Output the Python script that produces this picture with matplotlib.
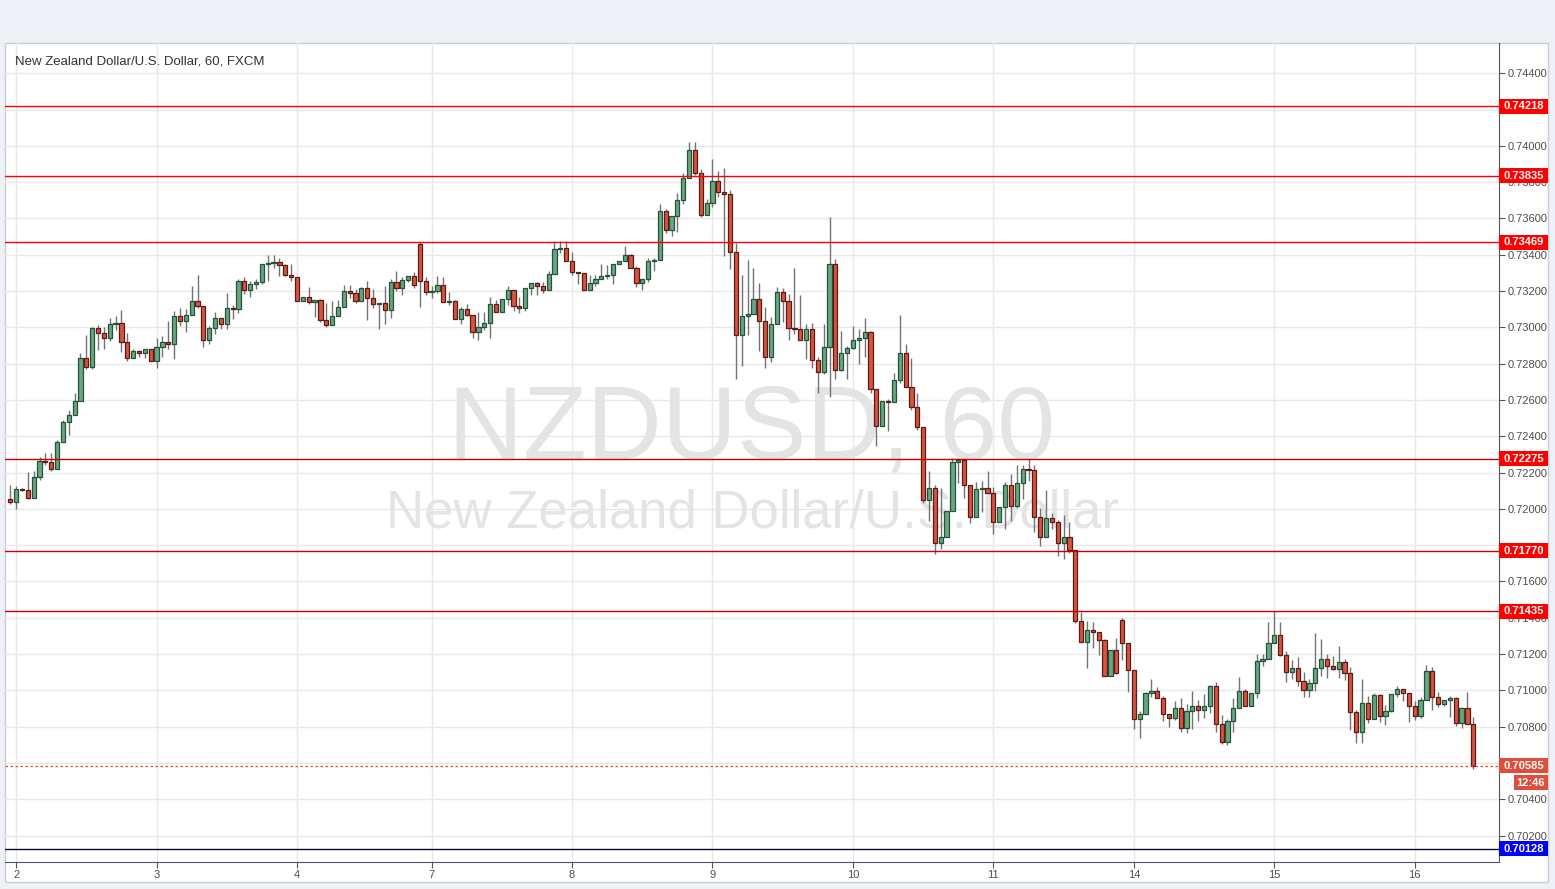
import matplotlib
matplotlib.use("Agg")
import matplotlib.pyplot as plt
import matplotlib.transforms as mtransforms
from matplotlib.patches import Rectangle
import numpy as np

# NZDUSD hourly candles (FXCM)
opens = [
    0.72056, 0.72037, 0.72111, 0.72105, 0.72061, 0.72178, 0.72263, 0.72256, 0.72220, 0.72367,
    0.72478, 0.72519, 0.72594, 0.72833, 0.72783, 0.72994, 0.72967, 0.72943, 0.73017, 0.73022,
    0.72920, 0.72833, 0.72870, 0.72861, 0.72883, 0.72817, 0.72894, 0.72922, 0.72906, 0.73061,
    0.73033, 0.73067, 0.73144, 0.73117, 0.72933, 0.72994, 0.73050, 0.73017, 0.73106, 0.73100,
    0.73256, 0.73206, 0.73239, 0.73250, 0.73350, 0.73356, 0.73361, 0.73344, 0.73289, 0.73278,
    0.73144, 0.73167, 0.73139, 0.73150, 0.73039, 0.73011, 0.73061, 0.73111, 0.73200, 0.73189,
    0.73144, 0.73217, 0.73161, 0.73128, 0.73133, 0.73094, 0.73250, 0.73217, 0.73261, 0.73283,
    0.73461, 0.73256, 0.73194, 0.73200, 0.73233, 0.73139, 0.73144, 0.73044, 0.73100, 0.73067,
    0.72972, 0.73000, 0.73022, 0.73128, 0.73083, 0.73156, 0.73206, 0.73117, 0.73106, 0.73217,
    0.73244, 0.73228, 0.73206, 0.73294, 0.73433, 0.73439, 0.73367, 0.73306, 0.73300, 0.73206,
    0.73244, 0.73267, 0.73283, 0.73289, 0.73350, 0.73367, 0.73400, 0.73328, 0.73244, 0.73267,
    0.73367, 0.73372, 0.73639, 0.73539, 0.73611, 0.73700, 0.73822, 0.73978, 0.73850, 0.73617,
    0.73683, 0.73806, 0.73744, 0.73733, 0.73417, 0.72956, 0.73061, 0.73072, 0.73156, 0.73033,
    0.72839, 0.73017, 0.73194, 0.73144, 0.72994, 0.72989, 0.72933, 0.72989, 0.72822, 0.72756,
    0.72894, 0.73350, 0.72767, 0.72861, 0.72889, 0.72933, 0.72944, 0.72972, 0.72661, 0.72456,
    0.72594, 0.72589, 0.72711, 0.72861, 0.72672, 0.72561, 0.72450, 0.72050, 0.72117, 0.71811,
    0.71844, 0.71989, 0.72256, 0.72267, 0.72133, 0.71956, 0.72111, 0.72117, 0.72089, 0.71928,
    0.72011, 0.72134, 0.72018, 0.72145, 0.72222, 0.72216, 0.71957, 0.71847, 0.71952, 0.71930,
    0.71814, 0.71847, 0.71775, 0.71384, 0.71268, 0.71334, 0.71323, 0.71279, 0.71081, 0.71224,
    0.71389, 0.71262, 0.71114, 0.70843, 0.70871, 0.70986, 0.70997, 0.70958, 0.70870, 0.70848,
    0.70903, 0.70792, 0.70886, 0.70914, 0.70892, 0.70914, 0.71024, 0.70814, 0.70715, 0.70831,
    0.70903, 0.70997, 0.70914, 0.70986, 0.71162, 0.71173, 0.71262, 0.71306, 0.71196, 0.71102,
    0.71124, 0.71052, 0.71002, 0.71041, 0.71124, 0.71173, 0.71135, 0.71118, 0.71157, 0.71096,
    0.70881, 0.70770, 0.70931, 0.70842, 0.70975, 0.70859, 0.70886, 0.70980, 0.71008, 0.70986,
    0.70914, 0.70859, 0.70945, 0.71106, 0.70962, 0.70923, 0.70945, 0.70956, 0.70818, 0.70901,
    0.70813,
]
highs = [
    0.72130, 0.72126, 0.72115, 0.72204, 0.72207, 0.72285, 0.72307, 0.72307, 0.72380, 0.72489,
    0.72546, 0.72639, 0.72857, 0.72957, 0.73000, 0.73013, 0.73000, 0.73050, 0.73063, 0.73096,
    0.72967, 0.72883, 0.72874, 0.72883, 0.72883, 0.72941, 0.72950, 0.73033, 0.73091, 0.73106,
    0.73100, 0.73230, 0.73291, 0.73117, 0.73007, 0.73085, 0.73050, 0.73191, 0.73124, 0.73267,
    0.73278, 0.73256, 0.73267, 0.73350, 0.73400, 0.73400, 0.73383, 0.73350, 0.73350, 0.73278,
    0.73167, 0.73222, 0.73150, 0.73156, 0.73133, 0.73144, 0.73150, 0.73233, 0.73233, 0.73211,
    0.73222, 0.73256, 0.73211, 0.73133, 0.73228, 0.73267, 0.73311, 0.73278, 0.73283, 0.73306,
    0.73472, 0.73278, 0.73228, 0.73283, 0.73278, 0.73194, 0.73150, 0.73111, 0.73128, 0.73067,
    0.73083, 0.73083, 0.73167, 0.73150, 0.73156, 0.73228, 0.73206, 0.73167, 0.73217, 0.73244,
    0.73250, 0.73250, 0.73311, 0.73478, 0.73478, 0.73478, 0.73417, 0.73306, 0.73300, 0.73289,
    0.73289, 0.73350, 0.73344, 0.73350, 0.73367, 0.73450, 0.73406, 0.73339, 0.73267, 0.73383,
    0.73383, 0.73678, 0.73650, 0.73611, 0.73739, 0.73850, 0.74022, 0.74022, 0.73872, 0.73706,
    0.73928, 0.73861, 0.73878, 0.73756, 0.73467, 0.73289, 0.73372, 0.73328, 0.73244, 0.73111,
    0.73056, 0.73222, 0.73217, 0.73183, 0.73328, 0.73178, 0.73017, 0.73022, 0.72839, 0.73017,
    0.73606, 0.73378, 0.72978, 0.72900, 0.73006, 0.72989, 0.73050, 0.72978, 0.72661, 0.72594,
    0.72606, 0.72750, 0.73067, 0.72911, 0.72833, 0.72639, 0.72450, 0.72206, 0.72133, 0.72117,
    0.71989, 0.72278, 0.72278, 0.72267, 0.72133, 0.72150, 0.72156, 0.72211, 0.72122, 0.72011,
    0.72150, 0.72194, 0.72239, 0.72239, 0.72277, 0.72239, 0.72007, 0.72105, 0.71979, 0.71941,
    0.71968, 0.71930, 0.71775, 0.71433, 0.71384, 0.71378, 0.71323, 0.71285, 0.71224, 0.71290,
    0.71400, 0.71262, 0.71114, 0.70888, 0.70991, 0.71063, 0.71019, 0.70969, 0.70870, 0.70941,
    0.70958, 0.70925, 0.70997, 0.70947, 0.70980, 0.71030, 0.71046, 0.70864, 0.70842, 0.70958,
    0.71074, 0.71008, 0.70986, 0.71201, 0.71201, 0.71378, 0.71439, 0.71378, 0.71218, 0.71168,
    0.71184, 0.71102, 0.71063, 0.71317, 0.71284, 0.71201, 0.71190, 0.71245, 0.71173, 0.71129,
    0.70892, 0.71063, 0.70969, 0.70986, 0.70980, 0.70919, 0.70980, 0.71024, 0.71008, 0.70986,
    0.70941, 0.70962, 0.71139, 0.71128, 0.70990, 0.70945, 0.70968, 0.70962, 0.70907, 0.70990,
    0.70851,
]
lows = [
    0.72024, 0.72000, 0.72100, 0.72052, 0.72061, 0.72159, 0.72239, 0.72207, 0.72220, 0.72367,
    0.72409, 0.72519, 0.72594, 0.72770, 0.72770, 0.72878, 0.72883, 0.72924, 0.72987, 0.72865,
    0.72815, 0.72833, 0.72837, 0.72833, 0.72817, 0.72776, 0.72837, 0.72883, 0.72828, 0.73007,
    0.72976, 0.73067, 0.73104, 0.72893, 0.72911, 0.72961, 0.72989, 0.72989, 0.73044, 0.73078,
    0.73183, 0.73167, 0.73211, 0.73239, 0.73256, 0.73328, 0.73283, 0.73283, 0.73256, 0.73144,
    0.73144, 0.73128, 0.73059, 0.73028, 0.73000, 0.73011, 0.73061, 0.73111, 0.73161, 0.73133,
    0.73144, 0.73039, 0.73106, 0.72989, 0.73017, 0.73050, 0.73200, 0.73178, 0.73250, 0.73217,
    0.73111, 0.73178, 0.73161, 0.73189, 0.73139, 0.73122, 0.73044, 0.73017, 0.73061, 0.72939,
    0.72928, 0.72983, 0.72939, 0.73083, 0.73083, 0.73122, 0.73089, 0.73078, 0.73089, 0.73178,
    0.73178, 0.73189, 0.73206, 0.73294, 0.73411, 0.73367, 0.73289, 0.73239, 0.73206, 0.73206,
    0.73228, 0.73267, 0.73267, 0.73239, 0.73350, 0.73367, 0.73328, 0.73222, 0.73206, 0.73250,
    0.73311, 0.73372, 0.73522, 0.73506, 0.73528, 0.73678, 0.73822, 0.73839, 0.73606, 0.73617,
    0.73661, 0.73717, 0.73394, 0.73322, 0.72715, 0.72789, 0.72956, 0.73072, 0.72872, 0.72778,
    0.72811, 0.73017, 0.73028, 0.72928, 0.72961, 0.72928, 0.72828, 0.72778, 0.72639, 0.72744,
    0.72617, 0.72715, 0.72761, 0.72715, 0.72883, 0.72800, 0.72839, 0.72639, 0.72344, 0.72456,
    0.72428, 0.72589, 0.72694, 0.72672, 0.72544, 0.72433, 0.72033, 0.71933, 0.71750, 0.71778,
    0.71844, 0.71989, 0.72144, 0.72061, 0.71922, 0.71956, 0.71983, 0.72089, 0.71861, 0.71928,
    0.71891, 0.71935, 0.72007, 0.72057, 0.72156, 0.71875, 0.71797, 0.71847, 0.71891, 0.71742,
    0.71726, 0.71759, 0.71373, 0.71268, 0.71125, 0.71235, 0.71196, 0.71081, 0.71081, 0.71092,
    0.71169, 0.70992, 0.70788, 0.70739, 0.70871, 0.70964, 0.70958, 0.70831, 0.70798, 0.70836,
    0.70770, 0.70765, 0.70787, 0.70831, 0.70848, 0.70875, 0.70770, 0.70704, 0.70698, 0.70770,
    0.70903, 0.70914, 0.70914, 0.70958, 0.71135, 0.71173, 0.71262, 0.71190, 0.71046, 0.71063,
    0.71024, 0.70964, 0.70964, 0.70997, 0.71079, 0.71068, 0.71112, 0.71068, 0.71057, 0.70781,
    0.70709, 0.70709, 0.70820, 0.70842, 0.70825, 0.70809, 0.70880, 0.70964, 0.70941, 0.70825,
    0.70836, 0.70846, 0.70945, 0.70890, 0.70907, 0.70912, 0.70851, 0.70801, 0.70790, 0.70813,
    0.70569,
]
closes = [
    0.72037, 0.72111, 0.72105, 0.72061, 0.72178, 0.72263, 0.72256, 0.72220, 0.72367, 0.72478,
    0.72519, 0.72594, 0.72833, 0.72783, 0.72994, 0.72967, 0.72943, 0.73017, 0.73022, 0.72920,
    0.72833, 0.72870, 0.72861, 0.72883, 0.72817, 0.72894, 0.72922, 0.72906, 0.73061, 0.73033,
    0.73067, 0.73144, 0.73117, 0.72933, 0.72994, 0.73050, 0.73017, 0.73106, 0.73100, 0.73256,
    0.73206, 0.73239, 0.73250, 0.73350, 0.73356, 0.73361, 0.73344, 0.73289, 0.73278, 0.73144,
    0.73167, 0.73139, 0.73150, 0.73039, 0.73011, 0.73061, 0.73111, 0.73200, 0.73189, 0.73144,
    0.73217, 0.73161, 0.73128, 0.73133, 0.73094, 0.73250, 0.73217, 0.73261, 0.73283, 0.73233,
    0.73256, 0.73194, 0.73200, 0.73233, 0.73139, 0.73144, 0.73044, 0.73100, 0.73067, 0.72972,
    0.73000, 0.73022, 0.73128, 0.73083, 0.73156, 0.73206, 0.73117, 0.73106, 0.73217, 0.73244,
    0.73228, 0.73206, 0.73294, 0.73433, 0.73439, 0.73367, 0.73306, 0.73300, 0.73206, 0.73244,
    0.73267, 0.73283, 0.73289, 0.73350, 0.73367, 0.73400, 0.73328, 0.73244, 0.73267, 0.73367,
    0.73372, 0.73639, 0.73539, 0.73611, 0.73700, 0.73822, 0.73978, 0.73850, 0.73617, 0.73683,
    0.73806, 0.73744, 0.73733, 0.73417, 0.72956, 0.73061, 0.73072, 0.73156, 0.73033, 0.72839,
    0.73017, 0.73194, 0.73144, 0.72994, 0.72989, 0.72933, 0.72989, 0.72822, 0.72756, 0.72894,
    0.73350, 0.72767, 0.72861, 0.72889, 0.72933, 0.72944, 0.72972, 0.72661, 0.72456, 0.72594,
    0.72589, 0.72711, 0.72861, 0.72672, 0.72561, 0.72450, 0.72050, 0.72117, 0.71811, 0.71844,
    0.71989, 0.72256, 0.72267, 0.72133, 0.71956, 0.72111, 0.72117, 0.72089, 0.71928, 0.72011,
    0.72134, 0.72018, 0.72145, 0.72222, 0.72216, 0.71957, 0.71847, 0.71952, 0.71930, 0.71814,
    0.71847, 0.71775, 0.71384, 0.71268, 0.71334, 0.71323, 0.71279, 0.71081, 0.71224, 0.71097,
    0.71262, 0.71114, 0.70843, 0.70871, 0.70986, 0.70997, 0.70958, 0.70870, 0.70848, 0.70903,
    0.70792, 0.70886, 0.70914, 0.70892, 0.70914, 0.71024, 0.70814, 0.70715, 0.70831, 0.70903,
    0.70997, 0.70914, 0.70986, 0.71162, 0.71173, 0.71262, 0.71306, 0.71196, 0.71102, 0.71124,
    0.71052, 0.71002, 0.71041, 0.71124, 0.71173, 0.71135, 0.71118, 0.71157, 0.71096, 0.70881,
    0.70770, 0.70931, 0.70842, 0.70975, 0.70859, 0.70886, 0.70980, 0.71008, 0.70986, 0.70914,
    0.70859, 0.70945, 0.71106, 0.70962, 0.70923, 0.70945, 0.70956, 0.70818, 0.70901, 0.70813,
    0.70585,
]

day_labels = ["2", "3", "4", "7", "8", "9", "10", "11", "14", "15", "16"]
day_index = [1, 25, 49, 72, 96, 120, 144, 168, 192, 216, 240]

red_levels = [0.74218, 0.73835, 0.73469]
dark_levels = [0.72275, 0.71770, 0.71435]
blue_level = 0.70128
last_price = 0.70585
countdown = "12:46"

price_ticks = np.arange(0.702, 0.7441, 0.002)
hidden_ticks = [0.742, 0.718, 0.706]   # fully under a price label in the screenshot

W, H = 1555, 889
plt.rcParams['font.family'] = ['Liberation Sans', 'DejaVu Sans']

fig = plt.figure(figsize=(W / 100, H / 100), dpi=100)
fig.patch.set_facecolor('#eef1f5')
fig.patches.append(Rectangle((5 / W, 7 / H), 1543 / W, 839 / H, transform=fig.transFigure,
                             fc='white', ec='#c9cdd4', lw=1, zorder=-5))

ax = fig.add_axes([5 / W, 27 / H, 1494 / W, 819 / H])
ax.set_facecolor('none')

o = np.array(opens)
h = np.array(highs)
l = np.array(lows)
c = np.array(closes)
x = np.arange(len(c))
up = c >= o

ax.vlines(x, l, h, color='#737375', lw=1, zorder=3)
body_lo = np.minimum(o, c)
body_h = np.maximum(np.abs(c - o), 0.00003)
ax.bar(x[up], body_h[up], bottom=body_lo[up], width=0.72, color='#6ba583',
       edgecolor='#225437', lw=0.9, zorder=4)
ax.bar(x[~up], body_h[~up], bottom=body_lo[~up], width=0.72, color='#d75442',
       edgecolor='#5b1a13', lw=0.9, zorder=4)

# watermark, behind the candles
ax.text(752 / W, 1 - 459 / H, "NZDUSD, 60", fontsize=75, color='#e4e4e4',
        ha='center', va='baseline', transform=fig.transFigure, zorder=1)
ax.text(753 / W, 1 - 528 / H, "New Zealand Dollar/U.S. Dollar", fontsize=38,
        color='#e4e4e4', ha='center', va='baseline', transform=fig.transFigure, zorder=1)
fig.text(15 / W, 1 - 64 / H, "New Zealand Dollar/U.S. Dollar, 60, FXCM", fontsize=9.5,
         color='#333333', ha='left', va='baseline')

ax.set_xlim(-0.9, 254.4)
ax.set_ylim(0.70054, 0.74567)

ax.set_yticks(price_ticks)
ax.set_yticklabels(["" if any(abs(v - t) < 1e-6 for t in hidden_ticks) else "%.5f" % v
                    for v in price_ticks])
ax.yaxis.tick_right()
ax.set_xticks(day_index)
ax.set_xticklabels(day_labels)
ax.tick_params(axis='both', labelsize=8, colors='#555555', length=4, width=0.8, pad=2)
ax.tick_params(axis='y', labelcolor='#4d4d4d')
ax.tick_params(axis='x', labelcolor='#4d4d4d')
ax.grid(True, color='#e8e8e8', lw=1, zorder=0)
ax.set_axisbelow(True)
for s in ['top', 'left']:
    ax.spines[s].set_visible(False)
ax.spines['right'].set_color('#555555')
ax.spines['bottom'].set_color('#555555')

trans = mtransforms.blended_transform_factory(ax.transAxes, ax.transData)
box_w = 49 / 1494
box_h = 15 / 18143


def price_box(y, face, text, dy=0.0, x0=1.0, w=box_w):
    ax.add_patch(Rectangle((x0, y - box_h / 2 + dy), w, box_h, transform=trans,
                           fc=face, ec='none', clip_on=False, zorder=10))
    ax.text(x0 + w / 2, y + dy, text, transform=trans, ha='center', va='center',
            fontsize=8, fontweight='bold', color='white', clip_on=False, zorder=11)


for lv in red_levels:
    ax.axhline(lv, color='#ff0000', lw=1, zorder=5)
    price_box(lv, '#ff0000', "%.5f" % lv)
for lv in dark_levels:
    ax.axhline(lv, color='#cc0000', lw=1, zorder=5)
    price_box(lv, '#ff0000', "%.5f" % lv)

ax.axhline(blue_level, color='#0a0a40', lw=1, zorder=5)
price_box(blue_level, '#0000ff', "%.5f" % blue_level)

ax.axhline(last_price, color='#e0483c', lw=0.9, ls=(0, (2, 2)), zorder=5)
price_box(last_price, '#df4e3c', "%.5f" % last_price)
price_box(last_price, '#df4e3c', countdown, dy=-17 / 18143, x0=1.0 + 15 / 1494, w=34 / 1494)

fig.savefig("out.png", dpi=100, facecolor=fig.get_facecolor())
